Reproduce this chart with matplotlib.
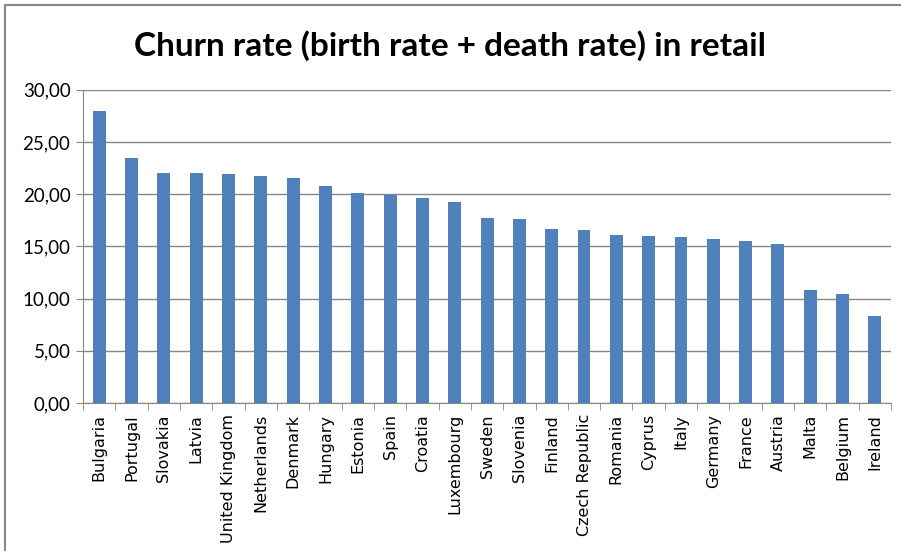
import matplotlib
matplotlib.use("Agg")
import matplotlib.pyplot as plt
import numpy as np
from matplotlib.patches import Rectangle
from matplotlib.ticker import FuncFormatter, MultipleLocator

# Datos
paises = ['Bulgaria', 'Portugal', 'Slovakia', 'Latvia', 'United Kingdom', 'Netherlands',
          'Denmark', 'Hungary', 'Estonia', 'Spain', 'Croatia', 'Luxembourg', 'Sweden',
          'Slovenia', 'Finland', 'Czech Republic', 'Romania', 'Cyprus', 'Italy', 'Germany',
          'France', 'Austria', 'Malta', 'Belgium', 'Ireland']
churn = [28.0, 23.43, 22.05, 22.05, 21.96, 21.70, 21.51, 20.81, 20.08, 19.95, 19.66,
         19.21, 17.68, 17.59, 16.69, 16.60, 16.09, 15.99, 15.89, 15.70, 15.51, 15.19,
         10.79, 10.41, 8.36]
titulo = "Churn rate (birth rate + death rate) in retail"

gris = '#868686'
azul = '#4F81BD'

fig = plt.figure(figsize=(9.01, 5.51), dpi=100)
ax = fig.add_axes([0.0921, 0.2686, 0.8969, 0.5686])

x = np.arange(len(paises))
ax.bar(x, churn, width=0.4, color=azul, zorder=3)

ax.set_xlim(-0.5, len(paises) - 0.5)
ax.set_ylim(0, 30)
ax.yaxis.set_major_locator(MultipleLocator(5))
ax.yaxis.set_major_formatter(FuncFormatter(lambda v, p: f"{v:.2f}".replace('.', ',')))
ax.grid(axis='y', color=gris, linewidth=1, zorder=0)

ax.set_xticks(x)
ax.set_xticklabels(paises, rotation=90, fontsize=11.5, family='DejaVu Sans')
ax.set_xticks(np.arange(len(paises) + 1) - 0.5, minor=True)
ax.tick_params(axis='x', which='major', length=0, pad=8)
ax.tick_params(axis='x', which='minor', length=5, color=gris, direction='out')
ax.tick_params(axis='y', length=5, color=gris, labelsize=13.5, pad=4)
for lbl in ax.get_yticklabels():
    lbl.set_family('Lato')

for lado in ['top', 'right']:
    ax.spines[lado].set_visible(False)
ax.spines['left'].set_color(gris)
ax.spines['bottom'].set_color(gris)

fig.text(0.5, 0.918, titulo, ha='center', va='center', fontsize=24,
         fontweight='bold', family='Lato')

# Borde del area del grafico
fig.patches.append(Rectangle((5 / 901, -0.01), 1.0, 1.0 - 5 / 551 + 0.01,
                             transform=fig.transFigure, fill=False,
                             edgecolor=gris, linewidth=1.5))

fig.savefig('out.png', dpi=100)
